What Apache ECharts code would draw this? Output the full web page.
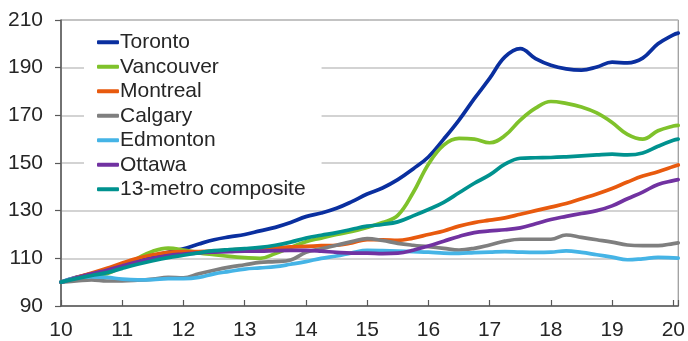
<!DOCTYPE html>
<html>
<head>
<meta charset="utf-8">
<script src="https://cdn.jsdelivr.net/npm/echarts@6/dist/echarts.min.js"></script>
<style>
html,body{margin:0;padding:0;background:#fff;}
#c{width:688px;height:341px;}
</style>
</head>
<body>
<div id="c"></div>
<script>
const years = [10,10.25,10.5,10.75,11,11.25,11.5,11.75,12,12.25,12.5,12.75,13,13.25,13.5,13.75,14,14.25,14.5,14.75,15,15.25,15.5,15.75,16,16.25,16.5,16.75,17,17.25,17.5,17.75,18,18.25,18.5,18.75,19,19.25,19.5,19.75,20,20.08];
const seriesNames = ['Toronto','Vancouver','Montreal','Calgary','Edmonton','Ottawa','13-metro composite'];
const toronto = [100,102,103.5,105,107,109,111,112.5,114,116,117.8,119,120,121.5,123,125,127.5,129,131,133.8,137,139.5,143,147.5,152.5,160,168,177,185.5,194.5,198,193.8,191,189.5,189,190.3,192.3,192,194,200,203.8,204.5];
const vancouver = [100,101.5,102.5,103.5,106.5,110,113,114.3,113.5,112.3,111.5,110.8,110.3,110,112,114.5,117,118.5,120,121.3,123,125,128,137.5,149.5,157.5,160.3,160,158.5,161.5,168,173,175.8,175,173.5,171,167,162,160,163.5,165.5,165.8];
const montreal = [100,102,103.8,105.8,108,110,111.5,112.5,112.8,112.8,113,113.5,113.8,114,114.3,114.8,115,115.3,115.5,116.5,117.8,117.8,117.5,118.5,120,121.5,123.5,125,126,127,128.5,130,131.5,133,135,137,139.3,142,144.5,146.3,148.5,149.2];
const calgary = [100,100.5,101,100.5,100.5,100.8,101.3,102,101.8,103.5,105,106.3,107.3,108.3,108.6,109.3,112.5,114,115.5,117,118.3,117.5,116.3,115.5,114.9,114.2,113.5,114.2,115.6,117.2,118,118,118,119.8,118.8,117.8,116.8,115.6,115.3,115.3,116.2,116.5];
const edmonton = [100,101.8,102.2,102,101.3,101,101.1,101.5,101.5,102,103.5,104.5,105.5,106,106.5,107.5,108.6,110,111,112.3,113.3,113.2,113,112.8,112.6,112.2,112.1,112.4,112.6,112.8,112.6,112.5,112.6,113.1,112.5,111.5,110.5,109.4,109.8,110.4,110.2,110.1];
const ottawa = [100,101.8,103.5,105,106.8,108.5,110,111.2,111.8,112.3,112.6,112.8,113,113,113.2,113.3,113.3,113,112.5,112.2,112.2,112,112.2,113.4,115.2,117.2,119.2,120.8,121.5,122,122.8,124.5,126.3,127.6,128.8,130,132,135,137.8,141,142.6,143];
const composite = [100,101.5,102.8,104,105.8,107.5,109,110.3,111.3,112.3,113.2,113.7,114.1,114.6,115.5,116.8,118.5,119.7,120.8,122.2,123.5,124.2,125.3,127.8,130.5,133.5,137.5,141.5,145,149.5,152,152.2,152.3,152.6,153,153.4,153.7,153.4,154.2,157,159.5,160];
const yTicks = [90,110,130,150,170,190,210];
const xTicks = [10,11,12,13,14,15,16,17,18,19,20];

const values = [toronto,vancouver,montreal,calgary,edmonton,ottawa,composite];
const colors = ['#0a2f9f','#7fc22b','#e85a0e','#7f7f7f','#45b4e6','#7132a1','#00928f'];

const FONT = 'Liberation Sans, Arial, sans-serif';
const chart = echarts.init(document.getElementById('c'), null, {renderer:'canvas'});
chart.setOption({
  animation:false,
  backgroundColor:'#fff',
  grid:{left:61,right:7,top:20,bottom:35,show:true,borderColor:'#808080',borderWidth:1,backgroundColor:'transparent'},
  legend:{
    show:true,
    orient:'vertical',
    left:84, top:24,
    padding:[6,16,4,13],
    backgroundColor:'#fff',
    itemGap:0,
    itemWidth:22,
    itemHeight:4,
    icon:'roundRect',
    data:seriesNames,
    textStyle:{fontFamily:FONT,fontSize:21,color:'#262626',lineHeight:24.5,padding:[0,0,0,-4]}
  },
  xAxis:{
    type:'value',
    min:10, max:20.08, interval:1,
    axisLine:{show:true,lineStyle:{color:'#595959',width:1.5}},
    axisTick:{show:true,inside:true,length:6,lineStyle:{color:'#595959',width:1.2}},
    splitLine:{show:false},
    axisLabel:{fontFamily:FONT,fontSize:21,color:'#262626',margin:14,
      formatter:function(v){return xTicks.indexOf(v)>=0 ? String(v) : '';}}
  },
  yAxis:{
    type:'value',
    min:90, max:210, interval:20,
    axisLine:{show:true,lineStyle:{color:'#595959',width:1.5}},
    axisTick:{show:true,inside:false,length:6,lineStyle:{color:'#595959',width:1.2}},
    splitLine:{show:true,lineStyle:{color:'#c4c4c4',width:1.5}},
    axisLabel:{fontFamily:FONT,fontSize:21,color:'#262626',margin:18,
      formatter:function(v){return yTicks.indexOf(v)>=0 ? String(v) : '';}}
  },
  series: seriesNames.map(function(name,k){
    return {
      name:name,
      type:'line',
      smooth:0.4,
      symbol:'none',
      color:colors[k],
      lineStyle:{width:3.7,color:colors[k],cap:'round',join:'round'},
      data: years.map(function(x,i){return [x, values[k][i]];})
    };
  })
});
</script>
</body>
</html>
